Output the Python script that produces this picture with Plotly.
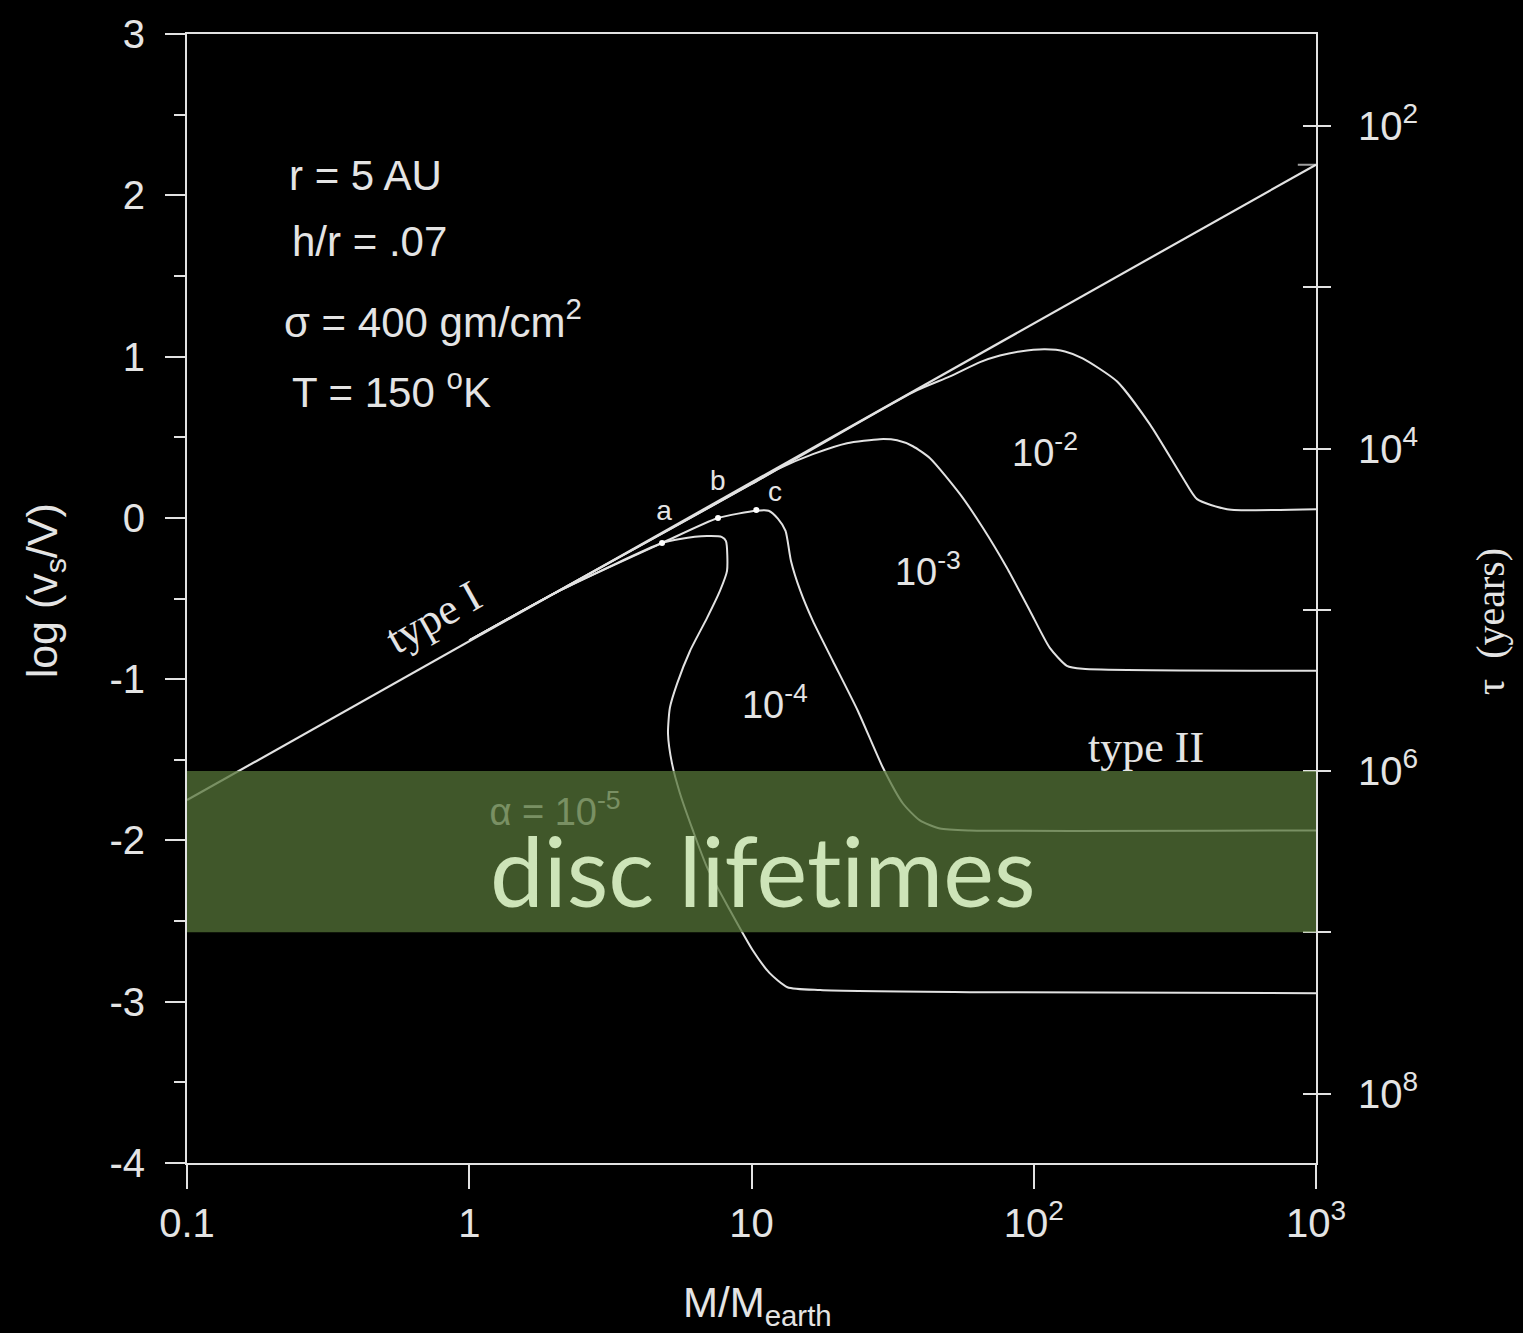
import numpy as np
import plotly.graph_objects as go

# ---- data: log migration speed vs planet mass (Earth masses) ----
type1_mass = [0.1, 1000]
type1_logv = [-1.75, 2.19]

alpha2_mass = [1.0, 10.0, 37.9, 50.5, 64.5, 75.9, 89.3, 109.6, 129, 149, 197, 258, 338, 379, 484, 1000]
alpha2_logv = [-0.76, 0.21, 0.785, 0.877, 0.966, 1.007, 1.032, 1.045, 1.032, 0.989, 0.847, 0.58,
               0.246, 0.116, 0.054, 0.054]

alpha3_mass = [1.0, 10.0, 12.6, 16.5, 21.8, 28.5, 32.8, 37.3, 42.9, 54.8, 66.1, 80.4, 97.0, 114,
               131, 149, 1000]
alpha3_logv = [-0.76, 0.21, 0.308, 0.395, 0.463, 0.488, 0.481, 0.444, 0.370, 0.147, -0.063, -0.311,
               -0.577, -0.806, -0.917, -0.936, -0.948]

alpha4_mass = [1.0, 2.10, 4.82, 7.61, 10.4, 11.5, 12.4, 13.2, 13.8, 14.9, 16.5, 19.4, 23.8, 29.2,
               34.4, 39.5, 46.5, 59.4, 1000]
alpha4_logv = [-0.76, -0.45, -0.156, -0.001, 0.044, 0.044, -0.005, -0.081, -0.267, -0.453, -0.639,
               -0.886, -1.196, -1.548, -1.771, -1.876, -1.926, -1.938, -1.938]

alpha5_mass = [1.0, 2.10, 4.82, 5.58, 6.96, 7.86, 8.12, 8.19, 7.73, 6.96, 6.06, 5.45, 5.14, 5.06,
               5.23, 5.58, 6.20, 6.96, 8.39, 10.1, 11.6, 13.4, 17.5, 59.4, 1000]
alpha5_logv = [-0.76, -0.45, -0.156, -0.131, -0.113, -0.119, -0.144, -0.329, -0.453, -0.620, -0.824,
               -1.028, -1.177, -1.338, -1.524, -1.709, -1.938, -2.167, -2.433, -2.681, -2.823,
               -2.910, -2.928, -2.941, -2.947]

# marked points a, b, c
point_labels = ["a", "b", "c"]
point_mass = [4.82, 7.61, 10.4]
point_logv = [-0.156, -0.001, 0.048]

# axis ticks
mass_ticks = [0.1, 1, 10, 100, 1000]
mass_ticktext = ["0.1", "1", "10", "10<sup>2</sup>", "10<sup>3</sup>"]
logv_range = [-4, 3]
logv_ticks = [-4, -3, -2, -1, 0, 1, 2, 3]
tau_offset = 4.43          # log10(tau) = tau_offset - log(v_s/V)
tau_tick_exp = [2, 3, 4, 5, 6, 7, 8]
tau_labelled = [2, 4, 6, 8]

# disc lifetime window (years)
disc_lifetime = [1e6, 1e7]

LINE = "#e2e2e2"
TXT = "#e4e4e4"
SANS = "Liberation Sans, Arial, sans-serif"
SERIF = "Liberation Serif, Times New Roman, serif"

fig = go.Figure()

curve_style = dict(mode="lines", line=dict(color=LINE, width=2, shape="spline", smoothing=0.6),
                   hoverinfo="skip", showlegend=False)
fig.add_trace(go.Scatter(x=type1_mass, y=type1_logv, mode="lines+markers",
                         line=dict(color=LINE, width=2.2),
                         marker=dict(symbol="line-ew-open", size=[0, 26],
                                     line=dict(color=LINE, width=2)),
                         showlegend=False))
for m, v in [(alpha2_mass, alpha2_logv), (alpha3_mass, alpha3_logv),
             (alpha4_mass, alpha4_logv), (alpha5_mass, alpha5_logv)]:
    fig.add_trace(go.Scatter(x=m, y=v, **curve_style))

fig.add_trace(go.Scatter(x=point_mass, y=point_logv, mode="markers",
                         marker=dict(color="white", size=6), showlegend=False))

# curve labels drawn as text traces so the lifetime band sits over them
curve_label_text = ["10<sup>-2</sup>", "10<sup>-3</sup>", "10<sup>-4</sup>", "α = 10<sup>-5</sup>"]
curve_label_mass = [10 ** 2.040, 10 ** 1.625, 10 ** 1.083, 10 ** 0.304]
curve_label_logv = [0.382, -0.360, -1.183, -1.845]
fig.add_trace(go.Scatter(x=curve_label_mass, y=curve_label_logv, mode="text", text=curve_label_text,
                         textfont=dict(family=SANS, size=38, color=TXT), showlegend=False))
fig.add_trace(go.Scatter(x=[10 ** 0.690, 10 ** 0.881, 10 ** 1.083], y=[0.030, 0.215, 0.147],
                         mode="text", text=point_labels,
                         textfont=dict(family=SANS, size=28, color=TXT), showlegend=False))
fig.add_trace(go.Scatter(x=[10 ** 2.398], y=[-1.443], mode="text", text=["type II"],
                         textfont=dict(family=SERIF, size=44, color=TXT), showlegend=False))

# invisible traces to carry the right-hand tau axes
fig.add_trace(go.Scatter(x=[1], y=[5], yaxis="y2", mode="markers", marker=dict(opacity=0),
                         showlegend=False, hoverinfo="skip"))
fig.add_trace(go.Scatter(x=[1], y=[5], yaxis="y3", mode="markers", marker=dict(opacity=0),
                         showlegend=False, hoverinfo="skip"))

# disc lifetime band (in tau units on the right axis)
fig.add_shape(type="rect", xref="paper", x0=0, x1=1, yref="y2",
              y0=np.log10(disc_lifetime[0]), y1=np.log10(disc_lifetime[1]),
              fillcolor="rgba(86,116,56,0.75)", line=dict(width=0), layer="above")

annotations = [
    dict(text="r = 5 AU", x=np.log10(0.226), y=2.121, xanchor="left"),
    dict(text="h/r = .07", x=np.log10(0.232), y=1.713, xanchor="left"),
    dict(text="σ = 400 gm/cm<sup>2</sup>", x=np.log10(0.217), y=1.230, xanchor="left"),
    dict(text="T = 150 <sup>o</sup>K", x=np.log10(0.232), y=0.797, xanchor="left"),
]
for a in annotations:
    fig.add_annotation(xref="x", yref="y", showarrow=False, yanchor="middle",
                       font=dict(family=SANS, size=42, color=TXT), **a)

fig.add_annotation(text="type I", xref="x", yref="y", x=-0.128, y=-0.62, textangle=-29.4,
                   showarrow=False, font=dict(family=SERIF, size=44, color=TXT))

fig.add_annotation(text="disc lifet\u200cimes", xref="x", yref="y", x=1.041, y=-2.18,
                   showarrow=False, font=dict(family="Lato, sans-serif", size=96, color="#cde4b8"))

# axis titles
fig.add_annotation(text="log (v<sub>s</sub>/V)", xref="paper", yref="paper", x=-0.126, y=0.507,
                   xanchor="center", yanchor="middle", textangle=-90, showarrow=False,
                   font=dict(family=SANS, size=43, color=TXT))
fig.add_annotation(text="M/M<sub>earth</sub>", xref="paper", yref="paper", x=0.505, y=-0.126,
                   xanchor="center", yanchor="middle", showarrow=False,
                   font=dict(family=SANS, size=42, color=TXT))
fig.add_annotation(text="τ  (years)", xref="paper", yref="paper", x=1.154, y=0.48,
                   xanchor="center", yanchor="middle", textangle=-90, showarrow=False,
                   font=dict(family=SERIF, size=40, color=TXT))

tau_range = [tau_offset - logv_range[0], tau_offset - logv_range[1]]
tau_text = ["10<sup>%d</sup>" % e if e in tau_labelled else "" for e in tau_tick_exp]

fig.update_layout(
    width=1523, height=1333,
    margin=dict(l=187, r=207, t=32, b=170),
    paper_bgcolor="black", plot_bgcolor="black",
    showlegend=False,
    xaxis=dict(type="log", range=[-1, 3], tickvals=mass_ticks, ticktext=mass_ticktext,
               showline=True, linecolor=LINE, linewidth=2, mirror=True,
               ticks="outside", ticklen=24, tickwidth=2, tickcolor=LINE,
               showgrid=False, zeroline=False,
               tickfont=dict(family=SANS, size=40, color=TXT)),
    yaxis=dict(range=logv_range, tickvals=logv_ticks, ticktext=[str(t) for t in logv_ticks],
               showline=True, linecolor=LINE, linewidth=2, mirror=True,
               ticks="outside", ticklen=20, tickwidth=2, tickcolor=LINE, ticklabelstandoff=12,
               minor=dict(dtick=0.5, ticks="outside", ticklen=11, tickwidth=2, tickcolor=LINE),
               showgrid=False, zeroline=False,
               tickfont=dict(family=SANS, size=40, color=TXT)),
    yaxis2=dict(overlaying="y", side="right", range=tau_range, tickvals=tau_tick_exp,
                ticktext=tau_text, ticks="outside", ticklen=13, tickwidth=2, tickcolor=LINE,
                ticklabelstandoff=19,
                showline=True, linecolor=LINE, linewidth=2, showgrid=False, zeroline=False,
                tickfont=dict(family=SANS, size=40, color=TXT)),
    yaxis3=dict(overlaying="y", side="right", range=tau_range, tickvals=tau_tick_exp,
                ticks="inside", ticklen=13, tickwidth=2, tickcolor=LINE, showticklabels=False,
                showline=False, showgrid=False, zeroline=False),
)

fig.write_html("out.html")
